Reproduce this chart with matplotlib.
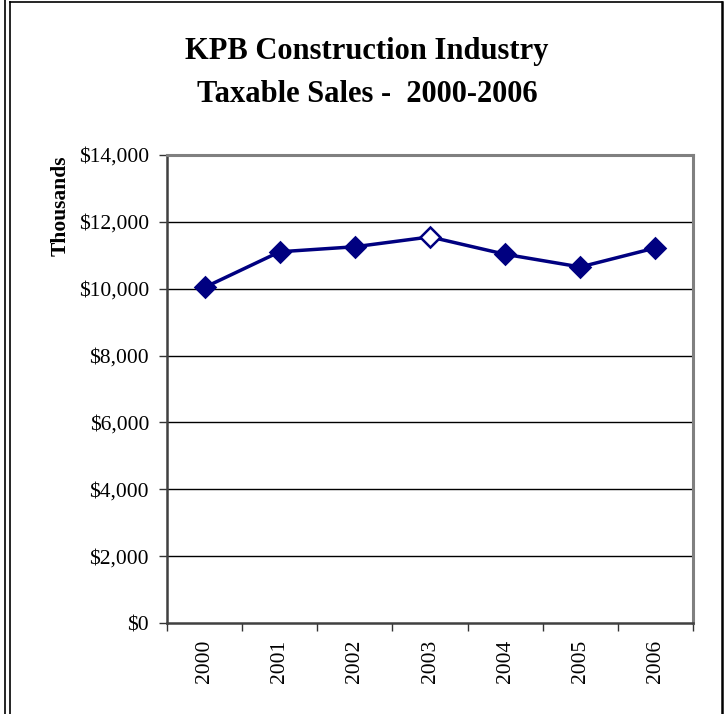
import matplotlib
matplotlib.use("Agg")
import matplotlib.pyplot as plt
from matplotlib.lines import Line2D
from matplotlib.ticker import FixedLocator, FuncFormatter

years = ["2000", "2001", "2002", "2003", "2004", "2005", "2006"]
sales = [10040, 11105, 11255, 11550, 11030, 10650, 11220]
hollow_year = "2003"
yticks = [0, 2000, 4000, 6000, 8000, 10000, 12000, 14000]

plt.rcParams['font.family'] = ['Liberation Serif', 'DejaVu Serif']

fig = plt.figure(figsize=(7.27, 7.14), dpi=100)
ax = fig.add_axes([167/727, 1-623/714, (693-167)/727, (623-155)/714])

x = list(range(len(years)))
navy = "#000080"
ax.plot(x, sales, color=navy, lw=2.5, zorder=3)
for xi, yr, v in zip(x, years, sales):
    fc = "white" if yr == hollow_year else navy
    ax.plot([xi], [v], marker="D", ms=10, mfc=fc, mec=navy, mew=1.8, zorder=4)

ax.set_xlim(-0.5, len(years) - 0.5)
ax.set_ylim(0, 14000)
ax.yaxis.set_major_locator(FixedLocator(yticks))
ax.yaxis.set_major_formatter(FuncFormatter(lambda v, p: f"${v:,.0f}"))
ax.set_xticks(x)
ax.set_xticklabels(years, rotation=90, fontsize=15.5)
ax.xaxis.set_minor_locator(FixedLocator([i - 0.5 for i in range(len(years) + 1)]))
ax.tick_params(axis="x", which="major", length=0, pad=12)
ax.tick_params(axis="x", which="minor", length=6, width=1, color="#333333")
ax.tick_params(axis="y", length=6, width=1, color="#333333", labelsize=15.5, pad=7)

for yv in yticks[1:-1]:
    ax.axhline(yv, color="black", lw=1, zorder=1)

for s in ["top", "right"]:
    ax.spines[s].set_color("#808080")
    ax.spines[s].set_linewidth(2.2)
for s in ["left", "bottom"]:
    ax.spines[s].set_color("#404040")
    ax.spines[s].set_linewidth(1.8)

ax.set_ylabel("Thousands", fontsize=15.5, fontweight="bold")
ax.yaxis.set_label_coords(-0.184, 0.891)

fig.text(367/727, 1-52/714, "KPB Construction Industry", ha="center", va="center",
         fontsize=22, fontweight="bold")
fig.text(367/727, 1-95/714, "Taxable Sales -  2000-2006", ha="center", va="center",
         fontsize=22, fontweight="bold")

# frame lines
W, H = 727, 714
def fl(x0, y0, x1, y1, lw=1.2):
    fig.add_artist(Line2D([x0/W, x1/W], [1-y0/H, 1-y1/H], color="black", lw=lw,
                          transform=fig.transFigure))
fl(5, 0, 5, 714)
fl(10, 2, 10, 714)
fl(10, 2, 722, 2)
fl(722, 2, 722, 714, lw=1.8)

fig.savefig("out.png", dpi=100, facecolor="white")
